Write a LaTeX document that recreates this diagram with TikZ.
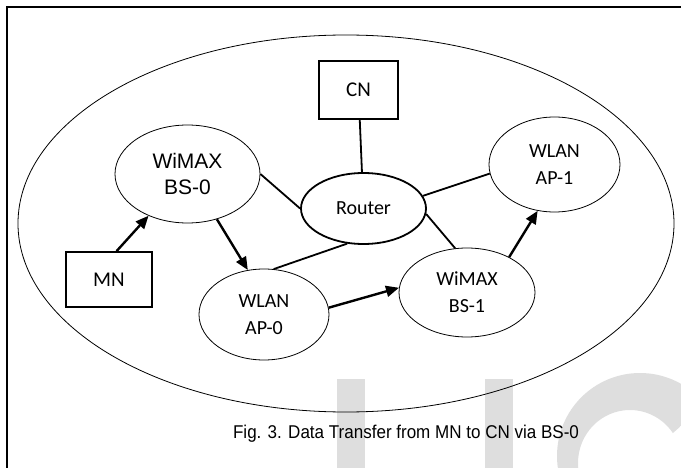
\documentclass[tikz,border=0pt]{standalone}
\usepackage{fontspec}
\usepackage{graphicx}
\setmainfont{Carlito}
\newfontfamily\arialfont{Liberation Sans}
\usetikzlibrary{shapes.geometric,arrows.meta}

\tikzset{
  cell/.style={ellipse, draw, line width=0.8pt, inner sep=0pt, align=center, font=\fontsize{20}{27}\selectfont},
  box/.style={rectangle, draw, line width=1.8pt, inner sep=0pt, font=\fontsize{21}{25}\selectfont},
  link/.style={line width=1.8pt},
  flow/.style={-{Triangle[length=13pt,width=11pt]}, line width=2.4pt},
}

\begin{document}
\begin{tikzpicture}[x=1pt,y=-1pt]
    \useasboundingbox (0,0) rectangle (681,468);
    % watermark behind the figure
    \fill[black!13] (337,379) rectangle (365,475);
    \fill[black!13] (485,379) rectangle (513,475);
    \begin{scope}
      \clip (540,365) -- (690,365) -- (690,418) -- (640,462) -- (640,480) -- (540,480) -- cycle;
      \fill[black!13, even odd rule] (640,456) circle [radius=83pt] (630,463) ellipse [x radius=52pt, y radius=53pt];
    \end{scope}
    % frame and network area
    \draw[line width=2pt] (690,7.5) -- (7,7.5) -- (7,480);
    \draw[line width=0.8pt] (346,223.5) ellipse [x radius=328pt, y radius=188.5pt];
    \node[box, minimum width=79pt, minimum height=58pt] (cn) at (358.5,90) {CN};
    \node[box, minimum width=86pt, minimum height=55pt] (mn) at (109,279.5) {MN\hspace{13pt}};
    \node[cell, line width=1.8pt, minimum width=125pt, minimum height=71pt] (router) at (363.5,208.5) {Router};
    \node[cell, minimum width=145pt, minimum height=98pt, font=\arialfont\fontsize{21}{26}\selectfont] (bs0) at (187.5,174) {WiMAX\\BS-0};
    \node[cell, minimum width=131pt, minimum height=95pt] (ap1) at (554.5,164.5) {WLAN\\AP-1};
    \node[cell, minimum width=130pt, minimum height=91pt] (ap0) at (264,314.5) {WLAN\\AP-0};
    \node[cell, minimum width=136pt, minimum height=89pt] (bs1) at (467,292.5) {WiMAX\\BS-1};
    % wired links
    \draw[link] (cn) -- (router);
    \draw[link] (bs0.east) -- (router.west);
    \draw[link] (router.12) -- (ap1.188);
    \draw[link] (router.-5) -- (bs1.105);
    \draw[link] (router.245) -- (ap0.78);
    % data path
    \draw[flow] (mn.75) -- (bs0.227);
    \draw[flow] (bs0.303) -- (ap0.110);
    \draw[flow] (ap0.6) -- (bs1.176);
    \draw[flow] (bs1.40) -- (ap1.250);
    \node[anchor=base, font=\arialfont\fontsize{18.5}{20}\selectfont] (caption) at (406,438) {\scalebox{0.92}[1]{Fig. 3. Data Transfer from MN to CN via BS-0}};
\end{tikzpicture}
\end{document}
